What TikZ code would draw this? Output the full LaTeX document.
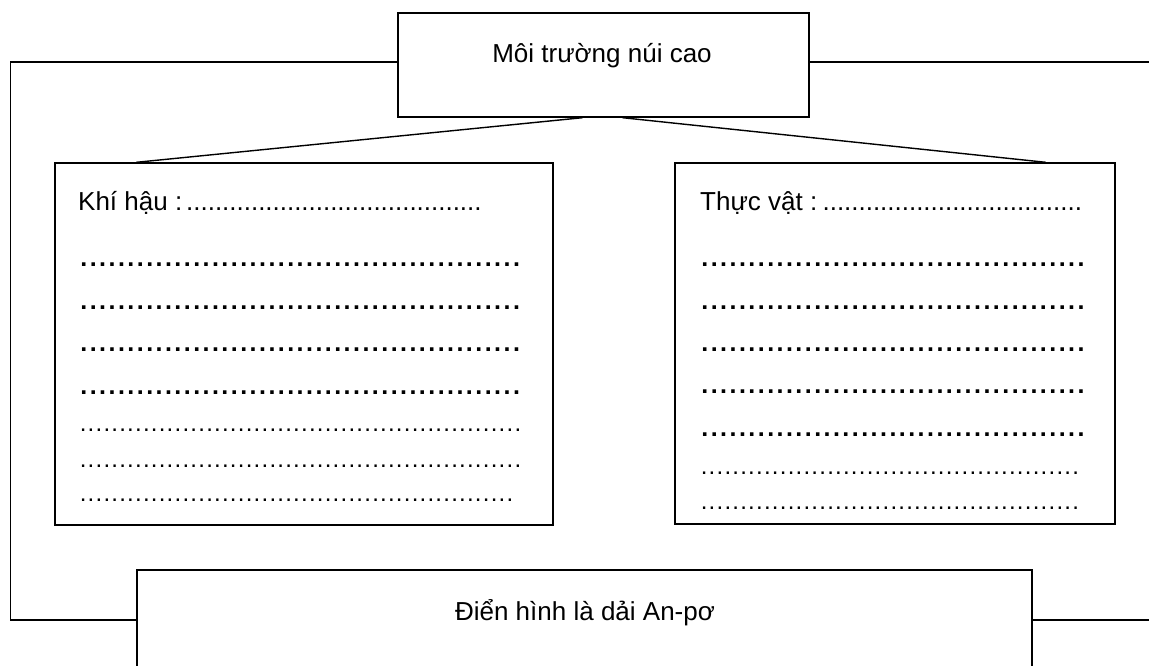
\documentclass[tikz,border=0pt]{standalone}
\usepackage{fontspec}
\setmainfont{Liberation Sans}
% a row of dots: #1 = step, #2 = length
\newcommand{\dotrow}[2]{\hbox to #2{\leaders\hbox to #1{\hss.\hss}\hfill}}

\begin{document}
\begin{tikzpicture}[x=1pt,y=-1pt,
        box/.style={draw, line width=1.4pt, inner sep=0pt},
        link/.style={draw, line width=1.4pt, -},
        txt/.style={font=\fontsize{26}{31}\selectfont, inner sep=0pt},
        bolddots/.style={font=\fontsize{25}{30}\selectfont\bfseries, inner sep=0pt, anchor=base west},
        thindots/.style={font=\fontsize{24}{29}\selectfont, inner sep=0pt, anchor=base west}]
        \useasboundingbox (0,0) rectangle (1149,666);
        \clip (0,0) rectangle (1149,666);

        % boxes
        \node[box, minimum width=411pt, minimum height=104pt] (nui) at (603.5,65) {};
        \node[txt, anchor=base] (nuitxt) at (602,63) {Môi trường núi cao};

        \node[box, minimum width=498pt, minimum height=362pt] (khihau) at (304,344) {};
        \node[box, minimum width=440pt, minimum height=361pt] (thucvat) at (895,343.5) {};

        \node[box, minimum width=895pt, minimum height=100pt] (anpo) at (584.5,620) {};
        \node[txt, anchor=base] (anpotxt) at (585,620) {Điển hình là dải An-pơ};

        % box contents
        \node[txt, anchor=base west] (khhead) at (78,210)
            {\hbox to 409pt{Khí hậu :\leaders\hbox to 7.2pt{\hss.\hss}\hfill}};
        \foreach \y/\w in {266/444, 309/444, 351/444, 394/444}
            \node[bolddots] (kh\y) at (79,\y) {\dotrow{9.4pt}{\w pt}};
        \foreach \y/\w in {431/449, 467/449, 501/441}
            \node[thindots] (kh\y) at (79,\y) {\dotrow{7.9pt}{\w pt}};

        \node[txt, anchor=base west] (tvhead) at (700,210)
            {\hbox to 385pt{Thực vật :\leaders\hbox to 7.2pt{\hss.\hss}\hfill}};
        \foreach \y/\w in {266/386, 309/386, 351/386, 393/386, 436/386}
            \node[bolddots] (tv\y) at (700,\y) {\dotrow{9.4pt}{\w pt}};
        \foreach \y/\w in {474/384, 509/384}
            \node[thindots] (tv\y) at (700,\y) {\dotrow{7.9pt}{\w pt}};

        % connectors
        \path[link] ([xshift=-21pt]nui.south) -- ([xshift=82pt]khihau.north west);
        \path[link] ([xshift=19pt]nui.south) -- ([xshift=-70pt]thucvat.north east);
        \path[link] ([yshift=3pt]nui.west) -- ++(-387,0) |- (anpo.west);
        \path[link] ([yshift=3pt]nui.east) -- ++(350,0) |- (anpo.east);
    \end{tikzpicture}
\end{document}
